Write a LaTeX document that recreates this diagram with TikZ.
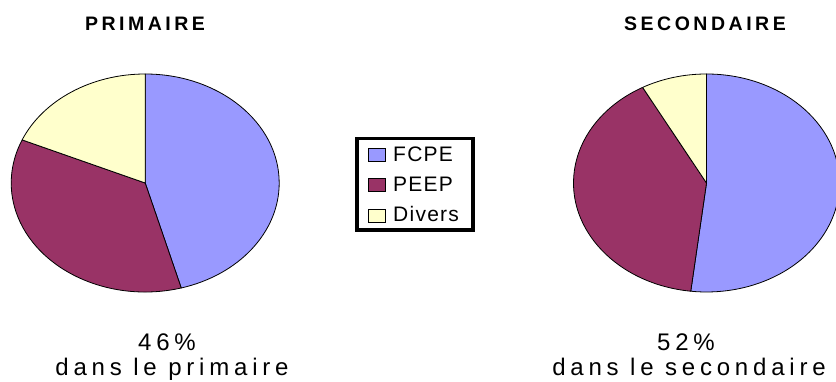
\documentclass[tikz,border=0pt]{standalone}
\usepackage{fontspec}
\setmainfont{Liberation Sans}
\newfontfamily\titlefont[LetterSpace=18]{Liberation Sans}
\newfontfamily\legendfont[LetterSpace=6]{Liberation Sans}
\newfontfamily\capfont[LetterSpace=20]{Liberation Sans}
\definecolor{fcpe}{HTML}{9999FF}
\definecolor{peep}{HTML}{993366}
\definecolor{divers}{HTML}{FFFFCC}

\begin{document}
\begin{tikzpicture}[x=1pt,y=1pt,
  slice/.style={draw=black,line width=0.8pt,line join=round},
  keybox/.style={draw=black,line width=0.8pt},
  title/.style={font=\titlefont\bfseries\fontsize{19.5}{21}\selectfont,anchor=base,inner sep=0pt},
  keytext/.style={font=\legendfont\fontsize{21}{23}\selectfont,anchor=base west,inner sep=0pt},
  share/.style={font=\capfont\fontsize{24}{28}\selectfont,anchor=base,inner sep=0pt}]
\clip (0,0) rectangle (836,382);
%
% primaire
\coordinate (pl) at (145.2,199);
\filldraw[slice,fill=fcpe] (pl) -- ++(0,109) arc[start angle=90,end angle=-74.4,x radius=134,y radius=109] -- cycle;
\filldraw[slice,fill=peep] (pl) -- +(-74.4:134 and 109) arc[start angle=-74.4,end angle=-203.3,x radius=134,y radius=109] -- cycle;
\filldraw[slice,fill=divers] (pl) -- +(156.7:134 and 109) arc[start angle=156.7,end angle=90,x radius=134,y radius=109] -- cycle;
%
% secondaire
\coordinate (pr) at (706.5,199);
\filldraw[slice,fill=fcpe] (pr) -- ++(0,109) arc[start angle=90,end angle=-96.8,x radius=133,y radius=109] -- cycle;
\filldraw[slice,fill=peep] (pr) -- +(-96.8:133 and 109) arc[start angle=-96.8,end angle=-241.3,x radius=133,y radius=109] -- cycle;
\filldraw[slice,fill=divers] (pr) -- +(118.7:133 and 109) arc[start angle=118.7,end angle=90,x radius=133,y radius=109] -- cycle;
%
% legende
\filldraw[fill=white,draw=black,line width=3.5pt] (357,243.5) rectangle (473,152);
\filldraw[keybox,fill=fcpe] (368,220.3) rectangle (385.5,233.7);
\filldraw[keybox,fill=peep] (368,191) rectangle (385.5,204);
\filldraw[keybox,fill=divers] (368,160) rectangle (385.5,173);
\node[keytext] (kfcpe) at (393,220.3) {FCPE};
\node[keytext] (kpeep) at (393,190.3) {PEEP};
\node[keytext] (kdiv) at (393,160) {Divers};
%
\node[title] (tprim) at (145,351) {PRIMAIRE};
\node[title] (tsec) at (705,351) {SECONDAIRE};
\node[share] (sprim) at (167,31) {46\%};
\node[share] (lprim) at (172,6) {dans le primaire};
\node[share] (ssec) at (686,31) {52\%};
\node[share] (lsec) at (689,6) {dans le secondaire};
\end{tikzpicture}
\end{document}
